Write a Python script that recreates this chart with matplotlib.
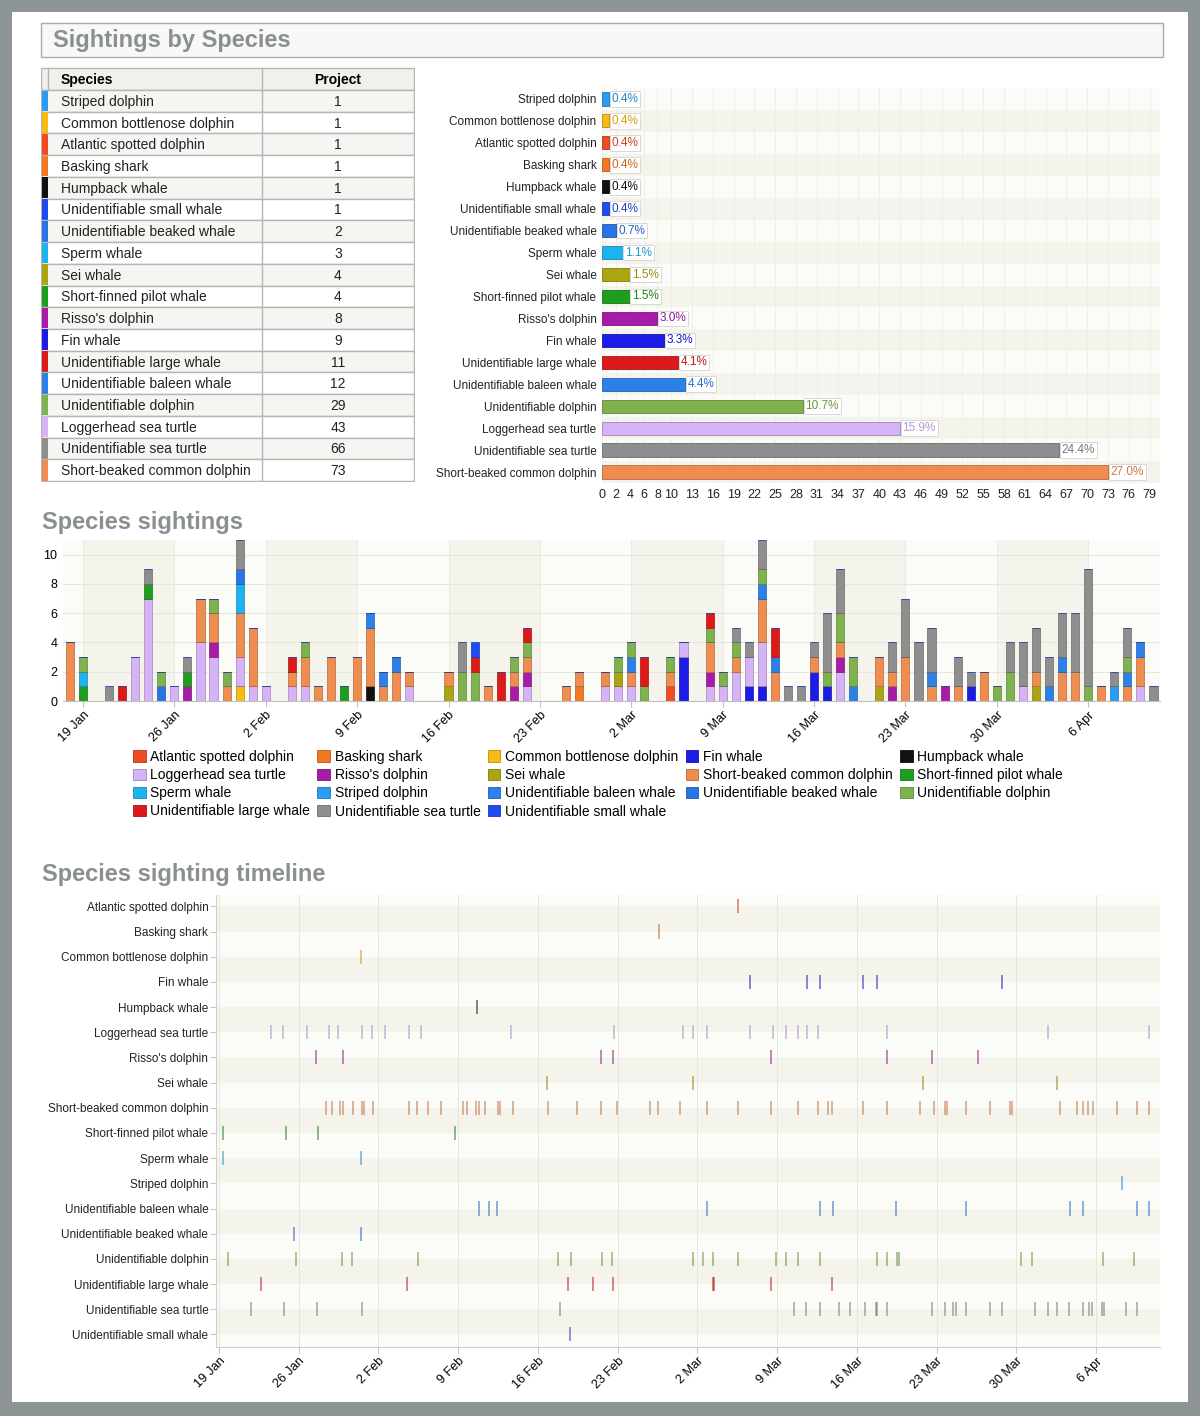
import datetime as dt
import numpy as np
import matplotlib
matplotlib.use('Agg')
import matplotlib.pyplot as plt
import matplotlib.dates as mdates
from matplotlib.patches import Rectangle, Patch

plt.rcParams['font.family'] = ['Liberation Sans', 'DejaVu Sans']

W, H = 1200, 1416
BASE = dt.datetime(2015, 1, 19)

# legend / timeline order
species = ['Atlantic spotted dolphin', 'Basking shark', 'Common bottlenose dolphin',
           'Fin whale', 'Humpback whale', 'Loggerhead sea turtle', "Risso's dolphin",
           'Sei whale', 'Short-beaked common dolphin', 'Short-finned pilot whale',
           'Sperm whale', 'Striped dolphin', 'Unidentifiable baleen whale',
           'Unidentifiable beaked whale', 'Unidentifiable dolphin',
           'Unidentifiable large whale', 'Unidentifiable sea turtle',
           'Unidentifiable small whale']
colors = ['#f24a22', '#f47722', '#f9bb12', '#1c1ce6', '#111111', '#d6b2f7', '#a81ba8',
          '#aaa510', '#ee8d4f', '#1e9e1e', '#1db3f0', '#2a9cf2', '#2b80ea',
          '#2874e6', '#7db24f', '#dd1a1a', '#8e8e8e', '#1f4cf0']

# table / horizontal bars, ascending by count
table_species = ['Striped dolphin', 'Common bottlenose dolphin', 'Atlantic spotted dolphin',
                 'Basking shark', 'Humpback whale', 'Unidentifiable small whale',
                 'Unidentifiable beaked whale', 'Sperm whale', 'Sei whale',
                 'Short-finned pilot whale', "Risso's dolphin", 'Fin whale',
                 'Unidentifiable large whale', 'Unidentifiable baleen whale',
                 'Unidentifiable dolphin', 'Loggerhead sea turtle',
                 'Unidentifiable sea turtle', 'Short-beaked common dolphin']
table_counts = [1, 1, 1, 1, 1, 1, 2, 3, 4, 4, 8, 9, 11, 12, 29, 43, 66, 73]
bar_ticks = [0, 2, 4, 6, 8, 10, 13, 16, 19, 22, 25, 28, 31, 34, 37, 40, 43, 46, 49,
             52, 55, 58, 61, 64, 67, 70, 73, 76, 79]

# daily counts: (days after 19 Jan, number)
daily_counts = {
    'Atlantic spotted dolphin': [(45, 1)],
    'Basking shark': [(38, 1)],
    'Common bottlenose dolphin': [(12, 1)],
    'Fin whale': [(46, 3), (51, 1), (52, 1), (56, 2), (57, 1), (68, 1)],
    'Humpback whale': [(22, 1)],
    'Loggerhead sea turtle': [(4, 3), (5, 7), (7, 1), (9, 4), (10, 3), (12, 2), (13, 1),
                              (14, 1), (16, 1), (17, 1), (25, 1), (34, 1), (40, 1),
                              (41, 1), (42, 1), (46, 1), (48, 1), (49, 1), (50, 2),
                              (51, 2), (52, 3), (58, 2), (72, 1), (81, 1)],
    "Risso's dolphin": [(8, 1), (10, 1), (33, 1), (34, 1), (48, 1), (58, 1), (62, 1),
                        (66, 1)],
    'Sei whale': [(28, 1), (41, 1), (61, 1), (73, 1)],
    'Short-beaked common dolphin': [(-1, 4), (9, 3), (10, 2), (11, 1), (12, 3), (13, 4),
                                    (16, 1), (17, 2), (18, 1), (19, 3), (21, 3), (22, 4),
                                    (23, 1), (24, 2), (25, 1), (28, 1), (31, 1), (33, 1),
                                    (34, 1), (37, 1), (38, 1), (40, 1), (42, 1), (45, 1),
                                    (48, 2), (50, 1), (52, 3), (53, 2), (56, 1), (58, 1),
                                    (61, 2), (62, 1), (63, 3), (65, 1), (67, 1), (69, 2),
                                    (73, 1), (75, 2), (76, 2), (78, 1), (80, 1), (81, 2)],
    'Short-finned pilot whale': [(0, 1), (5, 1), (8, 1), (20, 1)],
    'Sperm whale': [(0, 1), (12, 2)],
    'Striped dolphin': [(79, 1)],
    'Unidentifiable baleen whale': [(22, 1), (23, 1), (24, 1), (42, 1), (52, 1), (53, 1),
                                    (59, 1), (65, 1), (74, 1), (75, 1), (80, 1), (81, 1)],
    'Unidentifiable beaked whale': [(6, 1), (12, 1)],
    'Unidentifiable dolphin': [(0, 1), (6, 1), (10, 1), (11, 1), (17, 1), (29, 2), (30, 2),
                               (33, 1), (34, 1), (41, 1), (42, 1), (43, 1), (45, 1),
                               (48, 1), (49, 1), (50, 1), (52, 1), (57, 1), (58, 2),
                               (59, 2), (70, 1), (71, 2), (77, 1), (80, 1)],
    'Unidentifiable large whale': [(3, 1), (16, 1), (30, 1), (32, 2), (34, 1), (43, 2),
                                   (48, 1), (53, 2)],
    'Unidentifiable sea turtle': [(2, 1), (5, 1), (8, 1), (12, 2), (29, 2), (50, 1),
                                  (51, 1), (52, 2), (54, 1), (55, 1), (56, 1), (57, 4),
                                  (58, 3), (62, 2), (63, 4), (64, 4), (65, 3), (67, 2),
                                  (68, 1), (71, 2), (72, 3), (73, 3), (74, 2), (75, 3),
                                  (76, 4), (77, 8), (79, 1), (80, 2), (82, 1)],
    'Unidentifiable small whale': [(30, 1)],
}

# timeline sightings: days after 19 Jan (with time of day)
timeline_days = {
    'Atlantic spotted dolphin': [45.6],
    'Basking shark': [38.6],
    'Common bottlenose dolphin': [12.5],
    'Fin whale': [46.6, 51.6, 52.8, 56.5, 57.8, 68.7],
    'Humpback whale': [22.7],
    'Loggerhead sea turtle': [4.6, 5.6, 7.7, 9.7, 10.5, 12.6, 13.4, 14.6, 16.7, 17.7, 25.6,
                              34.7, 40.7, 41.6, 42.8, 46.6, 48.6, 49.8, 50.8, 51.6, 52.6,
                              58.6, 72.8, 81.6],
    "Risso's dolphin": [8.5, 10.9, 33.5, 34.6, 48.5, 58.6, 62.6, 66.6],
    'Sei whale': [28.8, 41.6, 61.8, 73.6],
    'Short-beaked common dolphin': [9.4, 9.9, 10.6, 10.9, 11.8, 12.6, 12.7, 13.5, 16.7, 17.4,
                                    18.4, 19.5, 21.4, 21.8, 22.6, 22.8, 23.4, 24.5, 24.7,
                                    25.8, 28.9, 31.4, 33.5, 34.9, 37.8, 38.5, 40.5, 42.8,
                                    45.6, 48.5, 50.8, 52.6, 53.5, 53.8, 56.5, 58.6, 61.5,
                                    62.8, 63.7, 63.9, 65.6, 67.7, 69.4, 69.6, 73.8, 75.3,
                                    75.8, 76.3, 76.7, 78.8, 80.6, 81.6],
    'Short-finned pilot whale': [0.4, 5.9, 8.7, 20.7],
    'Sperm whale': [0.4, 12.5],
    'Striped dolphin': [79.3],
    'Unidentifiable baleen whale': [22.8, 23.7, 24.4, 42.8, 52.8, 53.9, 59.4, 65.6, 74.7,
                                    75.8, 80.6, 81.6],
    'Unidentifiable beaked whale': [6.6, 12.5],
    'Unidentifiable dolphin': [0.8, 6.8, 10.8, 11.7, 17.5, 29.8, 30.9, 33.6, 34.5, 41.6,
                               42.5, 43.4, 45.6, 48.9, 49.8, 50.8, 52.8, 57.8, 58.6, 59.5,
                               59.7, 70.4, 71.4, 77.6, 80.3],
    'Unidentifiable large whale': [3.7, 16.5, 30.6, 32.8, 34.6, 43.4, 43.5, 48.5, 53.8],
    'Unidentifiable sea turtle': [2.8, 5.7, 8.6, 12.6, 29.9, 50.5, 51.5, 52.8, 54.4, 55.4,
                                  56.7, 57.7, 57.8, 58.6, 62.6, 63.7, 64.4, 64.7, 65.6, 67.7,
                                  68.7, 71.6, 72.8, 73.6, 74.6, 75.8, 76.4, 76.6, 77.5, 77.7,
                                  79.6, 80.6],
    'Unidentifiable small whale': [30.8],
}

color_of = dict(zip(species, colors))
BEIGE = '#f5f4ec'
LIGHT = '#fbfbf8'
TITLE_C = '#8a8f91'
base_num = mdates.date2num(BASE)


def px_axes(fig, left, top, right, bottom):
    return fig.add_axes([left / W, 1 - bottom / H, (right - left) / W, (bottom - top) / H])


def darker(c, f=0.75):
    r, g, b = matplotlib.colors.to_rgb(c)
    return (r * f, g * f, b * f)


fig = plt.figure(figsize=(W / 100, H / 100), dpi=100)
fig.patch.set_facecolor('#8d9597')
fig.add_artist(Rectangle((12 / W, 1 - 1402 / H), 1176 / W, 1390 / H,
                         transform=fig.transFigure, fc='white', ec='none', zorder=-10))

# ---- header box and section titles
fig.add_artist(Rectangle((41 / W, 1 - 57 / H), 1122 / W, 34 / H, transform=fig.transFigure,
                         fc='#f8f8f6', ec='#a9a9a9', lw=1, zorder=-5))
fig.text(53 / W, 1 - 40 / H, 'Sightings by Species', fontsize=17, fontweight='bold',
         color=TITLE_C, va='center')
fig.text(42 / W, 1 - 522 / H, 'Species sightings', fontsize=17, fontweight='bold',
         color=TITLE_C, va='center')
fig.text(42 / W, 1 - 875 / H, 'Species sighting timeline', fontsize=17, fontweight='bold',
         color=TITLE_C, va='center')

# ---- table
tab = px_axes(fig, 41, 67, 415, 482)
tab.set_xlim(41, 415)
tab.set_ylim(482, 67)
tab.axis('off')
row_h = (481 - 90) / len(table_species)
tab.add_patch(Rectangle((41.5, 68), 373, 22, fc='#f1f0ea', ec='#b5b5b5', lw=1))
tab.text(61, 79.5, 'Species', fontsize=10, fontweight='bold', va='center')
tab.text(338, 79.5, 'Project', fontsize=10, fontweight='bold', va='center', ha='center')
for i, (name, n) in enumerate(zip(table_species, table_counts)):
    y0 = 90 + i * row_h
    tab.add_patch(Rectangle((41.5, y0), 373, row_h, fc='#f5f5f2' if i % 2 == 0 else 'white',
                            ec='#b5b5b5', lw=1))
    tab.add_patch(Rectangle((42, y0 + 0.5), 6, row_h - 1, fc=color_of[name], ec='none'))
    tab.text(61, y0 + row_h / 2 + 1, name, fontsize=10, va='center', color='#222222')
    tab.text(338, y0 + row_h / 2 + 1, str(n), fontsize=10, va='center', ha='center',
             color='#222222')
tab.plot([262, 262], [68, 481], color='#b5b5b5', lw=1)
tab.plot([48, 48], [68, 90], color='#b5b5b5', lw=1)

# ---- horizontal bar chart
hb = px_axes(fig, 602, 88, 1160, 483)
ypos = np.arange(len(table_species))
for i in ypos:
    hb.axhspan(i - 0.5, i + 0.5, color=BEIGE if i % 2 == 1 else LIGHT, lw=0, zorder=0)
for t in bar_ticks:
    hb.axvline(t, color='#efeee7', lw=0.7, zorder=0.5)
total = sum(table_counts)
for i, (name, n) in enumerate(zip(table_species, table_counts)):
    c = color_of[name]
    hb.barh(i, n, height=0.6, color=c, edgecolor=darker(c), lw=0.6, zorder=2)
    hb.text(n + 0.35, i, f'{100 * n / total:.1f}%', fontsize=8.5, va='center',
            color=darker(c, 0.85), zorder=3,
            bbox=dict(boxstyle='square,pad=0.15', fc='white', ec='#d8d8d8', lw=0.7))
hb.set_ylim(17.5, -0.5)
hb.set_xlim(0, 80.5)
hb.set_yticks(ypos)
hb.set_yticklabels(table_species, fontsize=8.5, color='#222222')
hb.set_xticks(bar_ticks)
hb.set_xticklabels([str(t) for t in bar_ticks], fontsize=9, color='#222222')
hb.tick_params(length=0, pad=4)
for s in hb.spines.values():
    s.set_visible(False)

# ---- stacked daily bar chart
sb = px_axes(fig, 63, 540, 1160, 701)
first_day, last_day = -1, 82
days = np.arange(first_day, last_day + 1)
xdates = base_num + days
for k in range(12):
    sb.axvspan(base_num + 7 * k, base_num + 7 * (k + 1), color=BEIGE if k % 2 == 0 else LIGHT,
               lw=0, zorder=0)
    sb.axvline(base_num + 7 * k, color='#ebebe4', lw=0.7, zorder=0.5)
sb.axvspan(base_num - 3, base_num, color=LIGHT, lw=0, zorder=0)
for yv in range(2, 12, 2):
    sb.axhline(yv, color='#e6e6e0', lw=0.8, zorder=0.6)
bottom = np.zeros(len(days))
for name in species:
    vals = np.zeros(len(days))
    for d, n in daily_counts[name]:
        vals[d - first_day] += n
    c = color_of[name]
    sb.bar(xdates, vals, bottom=bottom, width=0.62, color=c, edgecolor=darker(c),
           lw=0.5, zorder=2)
    bottom += vals
sb.set_xlim(base_num - 1.53, base_num + 82.5)
sb.set_ylim(0, 11)
sb.set_yticks(range(0, 11, 2))
sb.set_xticks(base_num + np.arange(0, 78, 7))
sb.xaxis.set_major_formatter(mdates.DateFormatter('%-d %b'))
for lab in sb.get_xticklabels():
    lab.set_rotation(45)
    lab.set_ha('right')
    lab.set_rotation_mode('anchor')
sb.tick_params(axis='x', length=4, color='#c0c0c0', labelsize=9, pad=2)
sb.tick_params(axis='y', length=0, labelsize=9, pad=4)
for s in ['top', 'right', 'left']:
    sb.spines[s].set_visible(False)
sb.spines['bottom'].set_color('#c0c0c0')

order = [0, 5, 10, 15, 1, 6, 11, 16, 2, 7, 12, 17, 3, 8, 13, 4, 9, 14]
handles = [Patch(fc=colors[i], ec=darker(colors[i]), lw=0.6) for i in order]
labels = [species[i] for i in order]
fig.legend(handles, labels, loc='upper left', bbox_to_anchor=(133 / W, 1 - 750 / H),
           ncol=5, frameon=False, fontsize=10, handlelength=0.9, handleheight=0.9,
           handletextpad=0.35, columnspacing=0.52, labelspacing=0.3, borderpad=0,
           borderaxespad=0)

# ---- timeline
tl = px_axes(fig, 216, 895, 1160, 1347)
n_sp = len(species)
tl.axhspan(-0.5, 0, color=LIGHT, lw=0, zorder=0)
for i in range(n_sp):
    tl.axhspan(i, i + 1, color=BEIGE if i % 2 == 0 else LIGHT, lw=0, zorder=0)
for k in range(12):
    tl.axvline(base_num + 7 * k, color='#e6e6de', lw=0.7, zorder=0.5)
for i, name in enumerate(species):
    xs = base_num + np.array(timeline_days[name])
    tl.vlines(xs, i - 0.28, i + 0.28, color=darker(color_of[name], 0.8), lw=1.2, alpha=0.6,
              zorder=2)
tl.set_ylim(17.5, -0.45)
tl.set_xlim(base_num - 0.25, base_num + 82.6)
tl.set_yticks(range(n_sp))
tl.set_yticklabels(species, fontsize=8.5, color='#222222')
tl.set_xticks(base_num + np.arange(0, 78, 7))
tl.xaxis.set_major_formatter(mdates.DateFormatter('%-d %b'))
for lab in tl.get_xticklabels():
    lab.set_rotation(45)
    lab.set_ha('right')
    lab.set_rotation_mode('anchor')
tl.tick_params(axis='x', length=4, color='#c8c8c8', labelsize=9, pad=2)
tl.tick_params(axis='y', length=4, color='#c8c8c8', pad=1.5)
for s in ['top', 'right']:
    tl.spines[s].set_visible(False)
tl.spines['left'].set_color('#d0d0d0')
tl.spines['bottom'].set_color('#d0d0d0')

fig.savefig('out.png', dpi=100, facecolor=fig.get_facecolor())
